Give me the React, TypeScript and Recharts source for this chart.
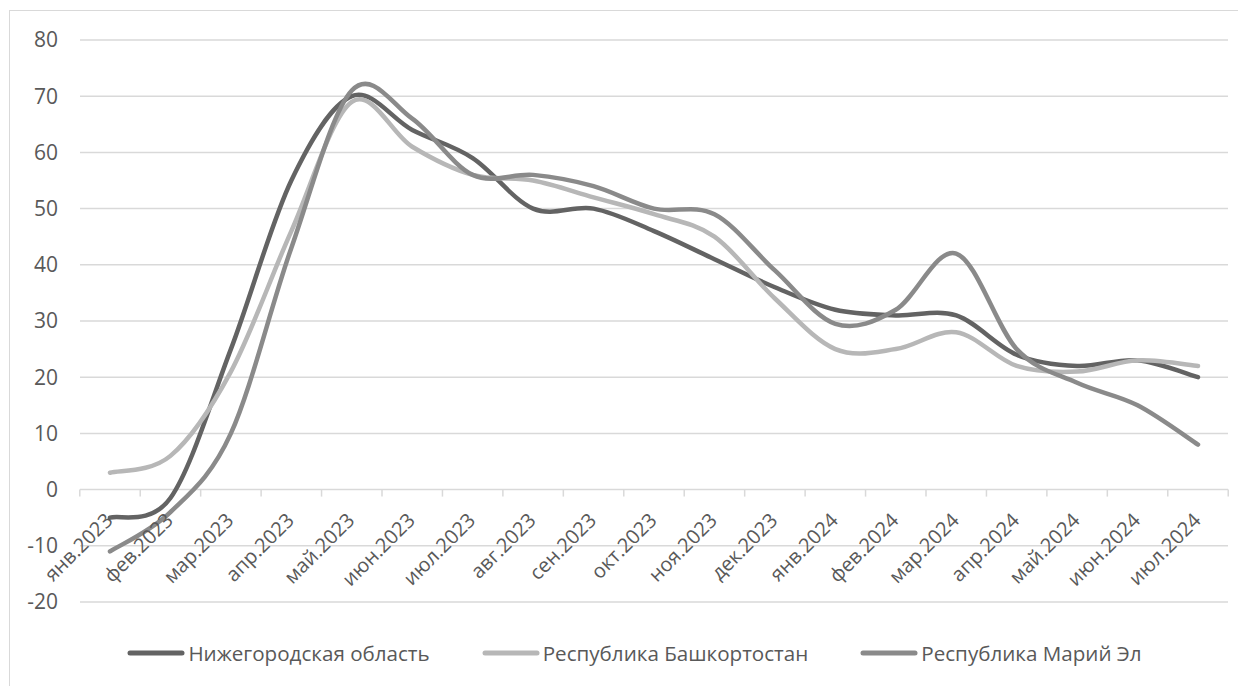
import React from 'react';
import { LineChart, Line, XAxis, YAxis, CartesianGrid, Legend } from 'recharts';

const categories = [
  'янв.2023', 'фев.2023', 'мар.2023', 'апр.2023', 'май.2023', 'июн.2023', 'июл.2023',
  'авг.2023', 'сен.2023', 'окт.2023', 'ноя.2023', 'дек.2023', 'янв.2024', 'фев.2024',
  'мар.2024', 'апр.2024', 'май.2024', 'июн.2024', 'июл.2024',
];
const nizhny = [-5, -1.5, 25, 55, 70, 64, 59, 50, 50, 46, 41, 36, 32, 31, 31, 24, 22, 23, 20];
const bashkortostan = [3, 6, 21, 46, 69, 61, 56, 55, 52, 49, 45, 34, 25, 25, 28, 22, 21, 23, 22];
const mariEl = [-11, -4, 10, 43, 71, 66, 56, 56, 54, 50, 49, 39, 29.5, 32, 42, 25, 19, 15, 8];
const yTicks = [-20, -10, 0, 10, 20, 30, 40, 50, 60, 70, 80];

const seriesList = [
  { key: 'nizhny', name: 'Нижегородская область', color: '#636363' },
  { key: 'bashkortostan', name: 'Республика Башкортостан', color: '#b7b7b7' },
  { key: 'mariEl', name: 'Республика Марий Эл', color: '#8a8a8a' },
];

const data = categories.map((month, i) => ({
  month,
  nizhny: nizhny[i],
  bashkortostan: bashkortostan[i],
  mariEl: mariEl[i],
}));

const FONT = '"Open Sans", sans-serif';
const TEXT = '#595959';
const GRID = '#d9d9d9';

const W = 1234;
const H = 670;
const M = { top: 29, right: 16, left: 0, bottom: 49 };
const Y_W = 70;
const X_H = 30;
const PAD = 30;
const plotTop = M.top;
const plotH = H - M.top - M.bottom - X_H;
const plotW = W - M.left - M.right - Y_W;
const zeroY = plotTop + (plotH * 80) / 100;
const step = (plotW - 2 * PAD) / (categories.length - 1);

// Excel-like smoothing (Catmull-Rom through the points)
function excelSmooth(context: any) {
  let pts: number[][] = [];
  return {
    areaStart() {},
    areaEnd() {},
    lineStart() {
      pts = [];
    },
    point(x: number, y: number) {
      pts.push([+x, +y]);
    },
    lineEnd() {
      if (!pts.length) return;
      context.moveTo(pts[0][0], pts[0][1]);
      for (let i = 0; i < pts.length - 1; i++) {
        const p0 = pts[i - 1] || pts[i];
        const p1 = pts[i];
        const p2 = pts[i + 1];
        const p3 = pts[i + 2] || p2;
        context.bezierCurveTo(
          p1[0] + (p2[0] - p0[0]) / 6,
          p1[1] + (p2[1] - p0[1]) / 6,
          p2[0] - (p3[0] - p1[0]) / 6,
          p2[1] - (p3[1] - p1[1]) / 6,
          p2[0],
          p2[1]
        );
      }
    },
  };
}

const MonthTick = ({ x, payload, index }: any) => {
  const last = index === categories.length - 1;
  const ax = x + 4;
  const ay = zeroY + 32;
  return (
    <g>
      <line x1={x - step / 2} y1={zeroY} x2={x - step / 2} y2={zeroY + 7} stroke={GRID} strokeWidth={1.5} />
      {last && <line x1={x + step / 2} y1={zeroY} x2={x + step / 2} y2={zeroY + 7} stroke={GRID} strokeWidth={1.5} />}
      <text
        x={ax}
        y={ay}
        textAnchor="end"
        transform={`rotate(-45 ${ax} ${ay})`}
        fill={TEXT}
        fontSize={20}
        fontFamily={FONT}
      >
        {payload.value}
      </text>
    </g>
  );
};

const LegendContent = () => (
  <div style={{ display: 'flex', justifyContent: 'center', gap: 52, paddingLeft: 15 }}>
    {seriesList.map((s) => (
      <div key={s.key} style={{ display: 'flex', alignItems: 'center' }}>
        <svg width={61} height={10}>
          <line x1={3} y1={5} x2={55} y2={5} stroke={s.color} strokeWidth={5} strokeLinecap="round" />
        </svg>
        <span style={{ fontFamily: FONT, fontSize: 20.6, color: TEXT }}>{s.name}</span>
      </div>
    ))}
  </div>
);

export default function App() {
  return (
    <div style={{ paddingTop: 2, paddingLeft: 1 }}>
      <style>{'body{overflow:hidden}'}</style>
      <div style={{ width: 1250, height: 700, border: `1px solid ${GRID}`, boxSizing: 'border-box', background: '#fff' }}>
        <LineChart width={W} height={H} data={data} margin={M}>
          <CartesianGrid vertical={false} stroke={GRID} strokeWidth={1.5} />
          <XAxis
            dataKey="month"
            height={X_H}
            padding={{ left: PAD, right: PAD }}
            axisLine={false}
            tickLine={false}
            interval={0}
            tick={<MonthTick />}
          />
          <YAxis
            width={Y_W}
            domain={[-20, 80]}
            ticks={yTicks}
            axisLine={false}
            tickLine={false}
            tickMargin={16}
            tick={{ fill: TEXT, fontSize: 21, fontFamily: FONT }}
          />
          <Legend
            verticalAlign="middle"
            align="center"
            layout="horizontal"
            content={<LegendContent />}
            wrapperStyle={{ top: 628, left: 0, width: W }}
          />
          {seriesList.map((s) => (
            <Line
              key={s.key}
              dataKey={s.key}
              name={s.name}
              type={excelSmooth as any}
              stroke={s.color}
              strokeWidth={4.5}
              strokeLinecap="round"
              dot={false}
              activeDot={false}
              isAnimationActive={false}
            />
          ))}
        </LineChart>
      </div>
    </div>
  );
}
